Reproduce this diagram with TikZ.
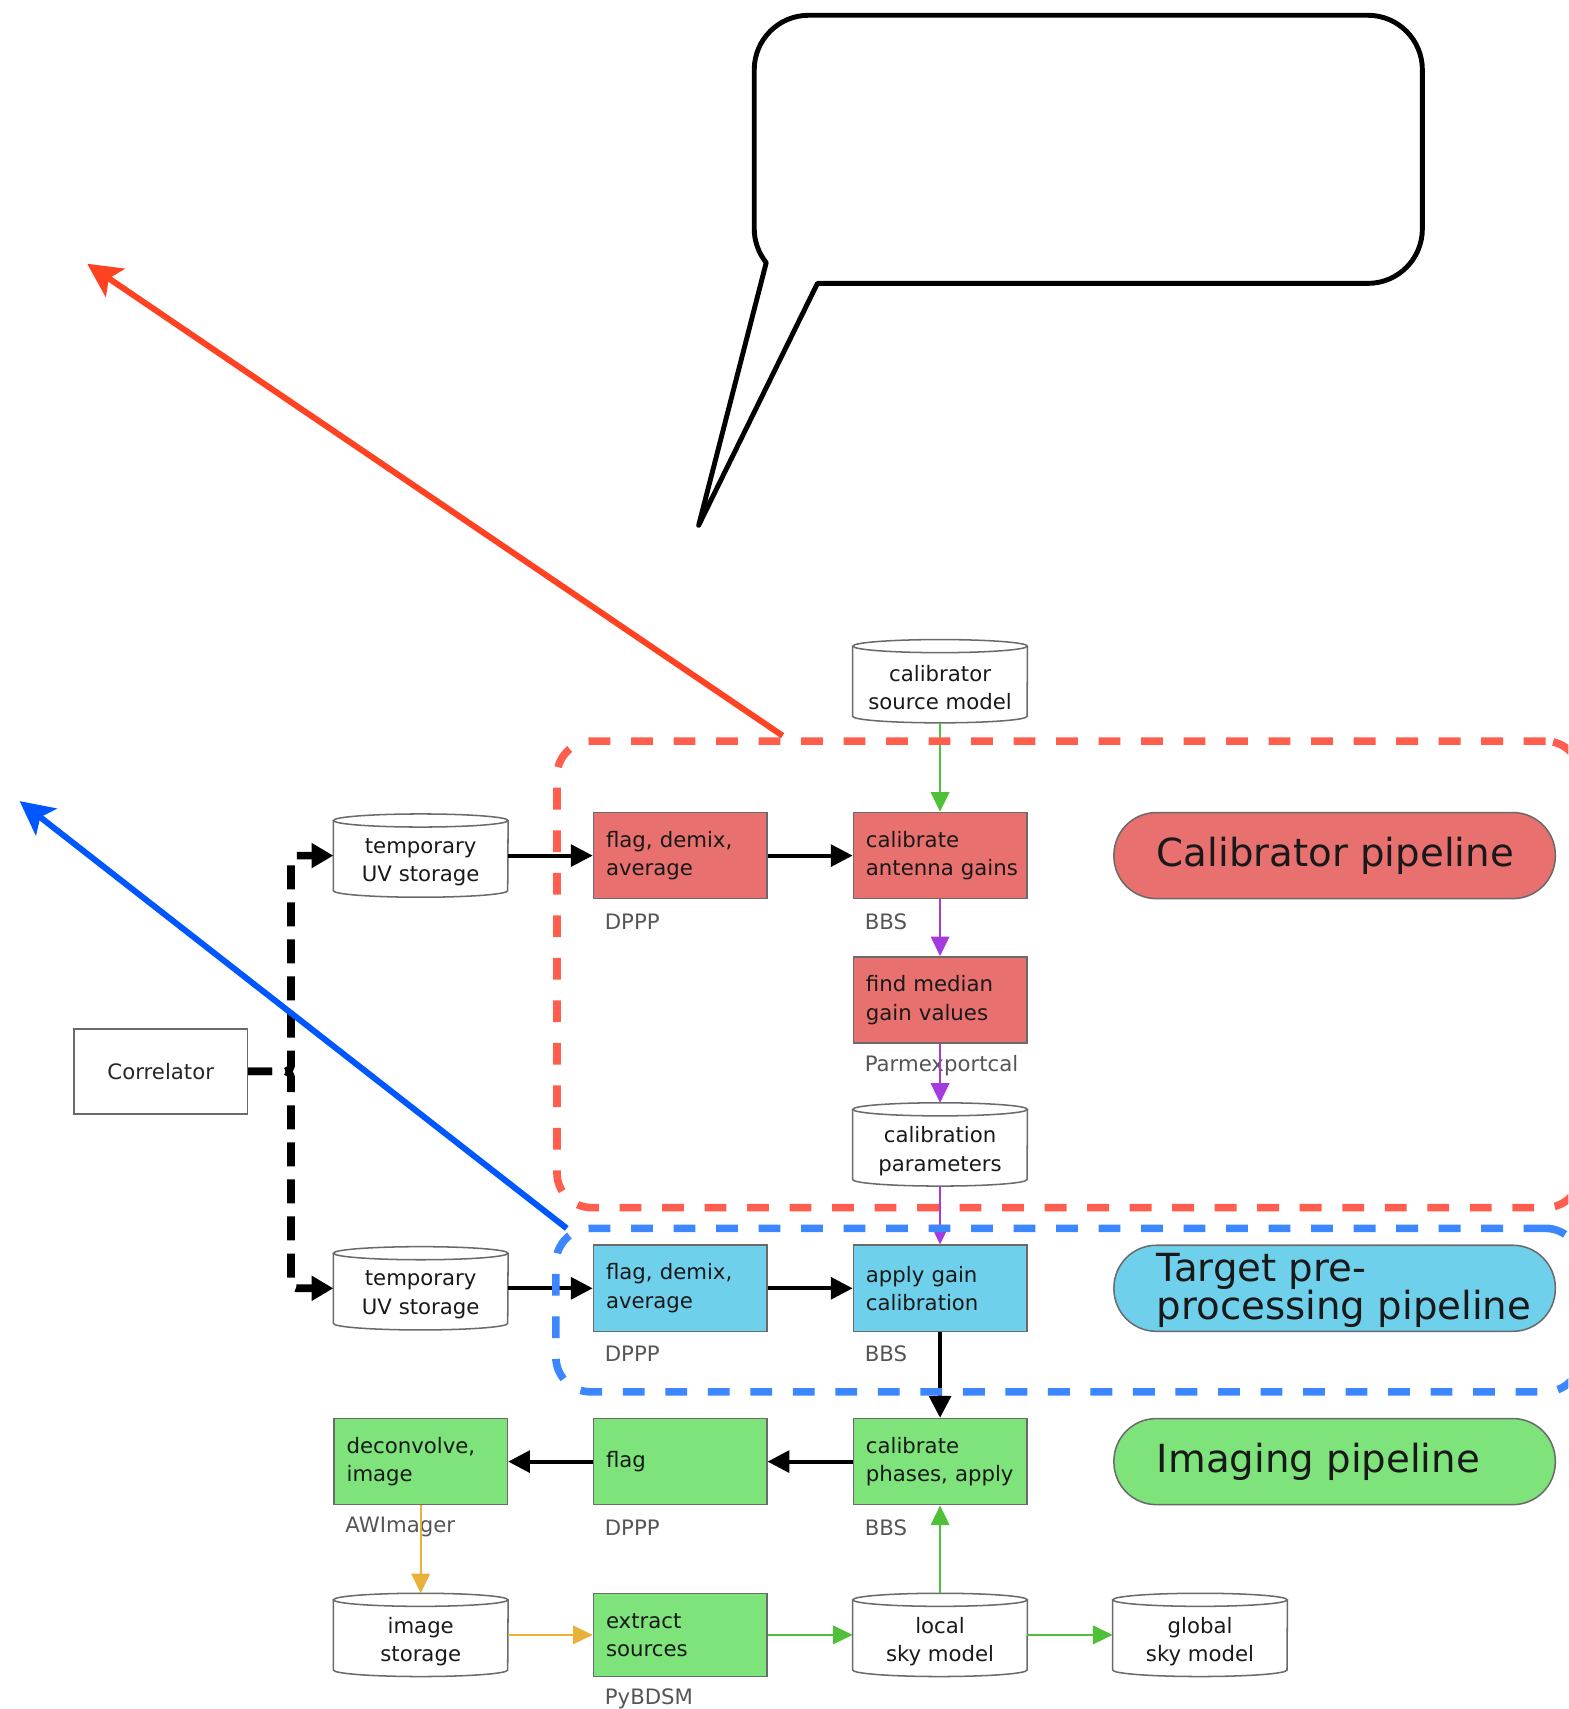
\documentclass[tikz,border=0pt]{standalone}
\usepackage{fontspec}
\setmainfont{DejaVu Sans}
\usetikzlibrary{arrows.meta,calc}

\definecolor{calred}{HTML}{E8706E}
\definecolor{tgtblue}{HTML}{6FD0EC}
\definecolor{imggreen}{HTML}{7DE37A}
\definecolor{boxedge}{HTML}{6A6A6A}
\definecolor{flowgreen}{HTML}{4FC038}
\definecolor{flowpurple}{HTML}{A43BE0}
\definecolor{flowyellow}{HTML}{E8B23A}
\definecolor{groupred}{HTML}{FF5E4E}
\definecolor{groupblue}{HTML}{3C87FF}
\definecolor{callred}{HTML}{FF4322}
\definecolor{callblue}{HTML}{0057FF}
\definecolor{tooltext}{HTML}{555555}

\newcommand\stagefont{\fontsize{19.5}{26}\selectfont}
\newcommand\pillfont{\fontsize{35.5}{35}\selectfont}

\begin{document}
\begin{tikzpicture}[x=1pt,y=-1pt,
  every node/.style={inner sep=0pt, font=\stagefont},
  stage/.style={rectangle, draw=boxedge, line width=1.5pt, minimum width=159pt,
    minimum height=79pt, text width=136pt, align=left, text=black!90},
  calstage/.style={stage, fill=calred},
  tgtstage/.style={stage, fill=tgtblue},
  imgstage/.style={stage, fill=imggreen},
  toolname/.style={label={[anchor=west, xshift=11pt, yshift=-20pt, text=tooltext,
    font=\stagefont]south west:#1}},
  store/.style={rectangle, minimum width=160pt, minimum height=76pt},
  storetext/.style={align=center, text=black!90, yshift=-6pt, font=\stagefont},
  storeedge/.style={draw=boxedge, line width=1.4pt},
  pill/.style={rectangle, rounded corners=39pt, draw=boxedge, line width=1.4pt,
    minimum width=405pt, minimum height=79pt},
  pilltext/.style={anchor=west, xshift=40pt, align=left, font=\pillfont, text=black!90},
  pass/.style={draw=black, line width=3.5pt, -{Triangle[length=20pt,width=20pt]}},
  feed/.style={draw=black, line width=7pt, dash pattern=on 22pt off 12pt,
    rounded corners=5pt, -{Triangle[length=20pt,width=22pt]}},
  flow/.style={line width=1.8pt, -{Triangle[length=18pt,width=17pt]}},
  grp/.style={rectangle, rounded corners=32pt, line width=7pt,
    dash pattern=on 20pt off 19pt},
  callout/.style={line width=5.5pt, -{Stealth[length=31pt,width=31pt,inset=7pt]}},
]
\useasboundingbox (0,0) rectangle (1439,1568);
\clip (0,0) rectangle (1439,1568);

% ---------- source and storage cylinders ----------
\node[store, label={[storetext]center:{calibrator\\source model}}] (csm) at (862.5,625) {};
\node[store, label={[storetext]center:{temporary\\UV storage}}] (uv1) at (386,785) {};
\node[store, label={[storetext]center:{temporary\\UV storage}}] (uv2) at (386,1182) {};
\node[store, label={[storetext]center:{calibration\\parameters}}] (cpar) at (862.5,1050) {};
\node[store, label={[storetext]center:{image\\storage}}] (imst) at (386,1500) {};
\node[store, label={[storetext]center:{local\\sky model}}] (lsm) at (862.5,1500) {};
\node[store, label={[storetext]center:{global\\sky model}}] (gsm) at (1101,1500) {};

\foreach \n in {csm,uv1,uv2,cpar,imst,lsm,gsm}{
  \draw[storeedge] ($(\n.north west)+(0,6)$) -- ($(\n.south west)+(0,-6)$)
    arc[start angle=180, end angle=360, x radius=80pt, y radius=6pt]
    -- ($(\n.north east)+(0,6)$);
  \draw[storeedge] ($(\n.north)+(0,6)$) ellipse[x radius=80pt, y radius=6pt];
}

% ---------- correlator ----------
\node[rectangle, draw=boxedge, line width=1.5pt, minimum width=159pt, minimum height=78pt,
  text=black!85] (corr) at (147.5,983) {Correlator};

% ---------- calibrator pipeline ----------
\node[calstage, toolname=DPPP] (ff1) at (624,785) {flag, demix,\\average};
\node[calstage, toolname=BBS] (cag) at (862.5,785) {calibrate\\antenna~gains};
\node[calstage, toolname=Parmexportcal] (fmg) at (862.5,917.5) {find median\\gain values};

% ---------- target pre-processing pipeline ----------
\node[tgtstage, toolname=DPPP] (ff2) at (624,1182) {flag, demix,\\average};
\node[tgtstage, toolname=BBS] (apg) at (862.5,1182) {apply gain\\calibration};

% ---------- imaging pipeline ----------
\node[imgstage, toolname=AWImager] (dec) at (386,1341) {deconvolve,\\image};
\node[imgstage, toolname=DPPP] (flg) at (624,1341) {flag};
\node[imgstage, toolname=BBS] (cpa) at (862.5,1341) {calibrate\\phases,~apply};
\node[imgstage, toolname=PyBDSM, minimum height=76pt] (ext) at (624,1500) {extract\\sources};

% ---------- pipeline legends ----------
\node[pill, fill=calred, label={[pilltext]west:Calibrator pipeline}] (calpill) at (1224.5,785) {};
\node[pill, fill=tgtblue, label={[pilltext, yshift=-2pt]west:{Target pre-\\processing pipeline}}] (tgtpill) at (1224.5,1182) {};
\node[pill, fill=imggreen, label={[pilltext]west:Imaging pipeline}] (imgpill) at (1224.5,1341) {};

% ---------- data flow ----------
\coordinate (split) at (267,983);
\draw[feed] (corr.east) -- (split) |- (uv1.west);
\draw[feed] (corr.east) -- (split) |- (uv2.west);

\draw[pass] (uv1.east) -- (ff1.west);
\draw[pass] (ff1.east) -- (cag.west);
\draw[pass] (uv2.east) -- (ff2.west);
\draw[pass] (ff2.east) -- (apg.west);
\draw[pass] (apg.south) -- (cpa.north);
\draw[pass] (cpa.west) -- (flg.east);
\draw[pass] (flg.west) -- (dec.east);

\draw[flow, flowgreen] (csm.south) -- (cag.north);
\draw[flow, flowpurple] (cag.south) -- (fmg.north);
\draw[flow, flowpurple] (fmg.south) -- (cpar.north);
\draw[flow, flowpurple] (cpar.south) -- (apg.north);
\draw[flow, flowyellow] (dec.south) -- (imst.north);
\draw[flow, flowyellow] (imst.east) -- (ext.west);
\draw[flow, flowgreen] (ext.east) -- (lsm.west);
\draw[flow, flowgreen] (lsm.east) -- (gsm.west);
\draw[flow, flowgreen] (lsm.north) -- (cpa.south);

% ---------- pipeline groups ----------
\node[grp, draw=groupred, minimum width=939pt, minimum height=428pt] (calgrp) at (980.5,894) {};
\node[grp, draw=groupblue, minimum width=940pt, minimum height=150pt] (tgtgrp) at (980,1202) {};

% ---------- callout arrows ----------
\coordinate (redtail) at (718,675);
\coordinate (redtip) at (80,242);
\coordinate (bluetail) at (520,1127);
\coordinate (bluetip) at (18,735);
\draw[callout, callred] (redtail) -- (redtip);
\draw[callout, callblue] (bluetail) -- (bluetip);

% ---------- speech bubble ----------
\draw[line width=4.5pt, fill=white, line join=round]
  (692,64) .. controls (692,36.4) and (714.4,14) .. (742,14)
  -- (1255,14) .. controls (1282.6,14) and (1305,36.4) .. (1305,64)
  -- (1305,210) .. controls (1305,237.6) and (1282.6,260) .. (1255,260)
  -- (750,260) -- (641,482) -- (703,241)
  .. controls (696,232.2) and (692,221.3) .. (692,210) -- cycle;
\end{tikzpicture}
\end{document}
